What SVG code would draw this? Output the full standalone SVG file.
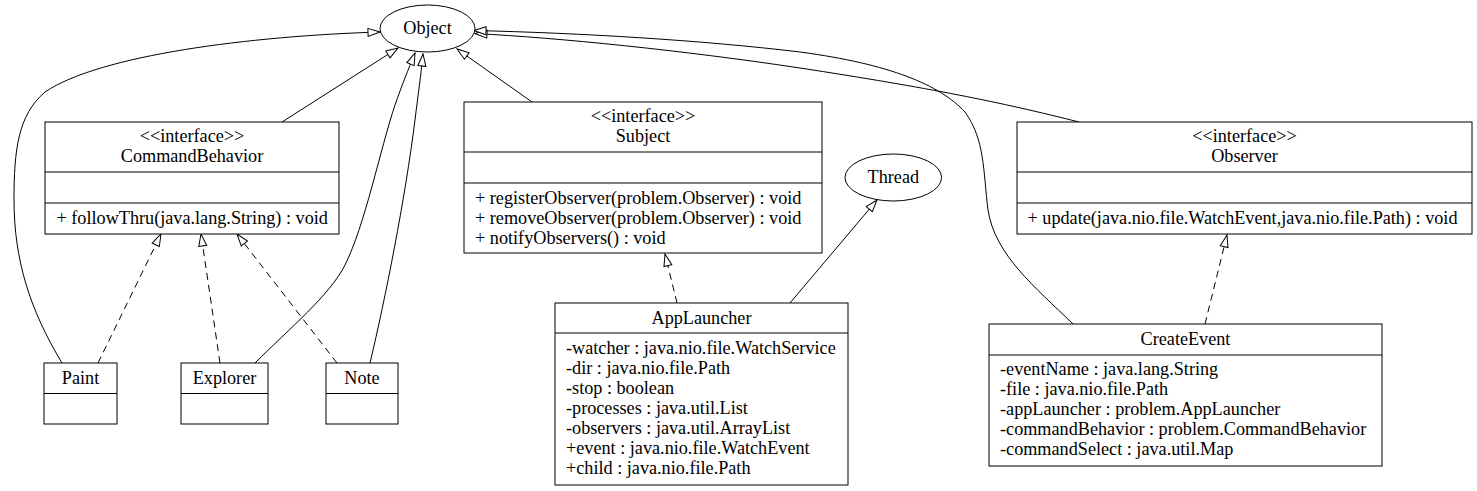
<svg xmlns="http://www.w3.org/2000/svg" width="1477" height="491" viewBox="0 0 1477 491">
<defs>
<style>
text{font-family:"Liberation Serif","Times New Roman",serif;font-size:18.2px;fill:#000}
.c{text-anchor:middle}
.box{fill:#fff;stroke:#000;stroke-width:1}
.div{stroke:#000;stroke-width:1}
.edge{fill:none;stroke:#000;stroke-width:1}
.dash{stroke-dasharray:7,5}
.arr{marker-end:url(#tri)}
</style>
<marker id="tri" viewBox="0 0 14 10" refX="13" refY="5" markerWidth="14" markerHeight="10" markerUnits="userSpaceOnUse" orient="auto">
<path d="M1,1 L13,5 L1,9 Z" fill="#fff" stroke="#000" stroke-width="1"/>
</marker>
</defs>
<rect width="1477" height="491" fill="#fff"/>
<g id="connectors">
<path class="edge arr" d="M62,363 C30,310 14,260 14,200 C14,150 18,115 45,92 C100,55 250,36 380,32"/>
<path class="edge arr" d="M282,122 L398,48"/>
<path class="edge arr" d="M255,363 C290,328 330,295 345,265 C365,225 380,150 395,105 C402,85 408,70 415,53"/>
<path class="edge arr" d="M370,363 C385,300 405,200 415,120 C418,95 421,75 423,54"/>
<path class="edge arr" d="M532,102 L457,49"/>
<path class="edge arr" d="M1079,122 C1000,102 930,88 800,68 C680,50 560,38 475,33.5"/>
<path class="edge arr" d="M1073,324 C1035,287 995,255 988,210 C983,170 985,140 965,112 C940,85 890,64 800,52 C700,40 580,33 474,30.5"/>
<path class="edge dash arr" d="M677,303 L665,254"/>
<path class="edge arr" d="M790,303 L877,200"/>
<path class="edge dash arr" d="M1205,324 L1227,235"/>
<path class="edge dash arr" d="M98,363 L161,234"/>
<path class="edge dash arr" d="M220,363 L201,234"/>
<path class="edge dash arr" d="M337,363 L237,234"/>
</g>
<g id="Object">
<ellipse class="box" cx="427.5" cy="28.5" rx="47.5" ry="23.5"/>
<text class="c" x="427.5" y="34">Object</text>
</g>
<g id="CommandBehavior">
<rect class="box" x="45" y="122" width="294" height="112"/>
<line class="div" x1="45" y1="172" x2="339" y2="172"/>
<line class="div" x1="45" y1="203" x2="339" y2="203"/>
<text class="c" x="192" y="141.5">&lt;&lt;interface&gt;&gt;</text>
<text class="c" x="192" y="161.5">CommandBehavior</text>
<text x="56.5" y="223.5">+ followThru(java.lang.String) : void</text>
</g>
<g id="Subject">
<rect class="box" x="464" y="102" width="358" height="151"/>
<line class="div" x1="464" y1="152" x2="822" y2="152"/>
<line class="div" x1="464" y1="183" x2="822" y2="183"/>
<text class="c" x="643" y="121.5">&lt;&lt;interface&gt;&gt;</text>
<text class="c" x="643" y="141.5">Subject</text>
<text x="475" y="203.5">+ registerObserver(problem.Observer) : void</text>
<text x="475" y="223.5">+ removeObserver(problem.Observer) : void</text>
<text x="475" y="243.5">+ notifyObservers() : void</text>
</g>
<g id="Observer">
<rect class="box" x="1017" y="122" width="455" height="112"/>
<line class="div" x1="1017" y1="172" x2="1472" y2="172"/>
<line class="div" x1="1017" y1="203" x2="1472" y2="203"/>
<text class="c" x="1244.5" y="141.5">&lt;&lt;interface&gt;&gt;</text>
<text class="c" x="1244.5" y="161.5">Observer</text>
<text x="1027.5" y="223.5">+ update(java.nio.file.WatchEvent,java.nio.file.Path) : void</text>
</g>
<g id="Thread">
<ellipse class="box" cx="893.3" cy="177.5" rx="48.3" ry="23.5"/>
<text class="c" x="893.3" y="183">Thread</text>
</g>
<g id="AppLauncher">
<rect class="box" x="555" y="303" width="293" height="182"/>
<line class="div" x1="555" y1="333" x2="848" y2="333"/>
<text class="c" x="701.5" y="324">AppLauncher</text>
<text x="566" y="353.5">-watcher : java.nio.file.WatchService</text>
<text x="566" y="373.5">-dir : java.nio.file.Path</text>
<text x="566" y="393.5">-stop : boolean</text>
<text x="566" y="413.5">-processes : java.util.List</text>
<text x="566" y="433.5">-observers : java.util.ArrayList</text>
<text x="566" y="453.5">+event : java.nio.file.WatchEvent</text>
<text x="566" y="473.5">+child : java.nio.file.Path</text>
</g>
<g id="CreateEvent">
<rect class="box" x="989" y="324" width="393" height="142"/>
<line class="div" x1="989" y1="355" x2="1382" y2="355"/>
<text class="c" x="1185.5" y="344.5">CreateEvent</text>
<text x="1000" y="375">-eventName : java.lang.String</text>
<text x="1000" y="395">-file : java.nio.file.Path</text>
<text x="1000" y="415">-appLauncher : problem.AppLauncher</text>
<text x="1000" y="435">-commandBehavior : problem.CommandBehavior</text>
<text x="1000" y="455">-commandSelect : java.util.Map</text>
</g>
<g id="Paint">
<rect class="box" x="44" y="363" width="73" height="61"/>
<line class="div" x1="44" y1="393.5" x2="117" y2="393.5"/>
<text class="c" x="80.5" y="384">Paint</text>
</g>
<g id="Explorer">
<rect class="box" x="181" y="363" width="87" height="61"/>
<line class="div" x1="181" y1="393.5" x2="268" y2="393.5"/>
<text class="c" x="224.5" y="384">Explorer</text>
</g>
<g id="Note">
<rect class="box" x="326" y="363" width="72" height="61"/>
<line class="div" x1="326" y1="393.5" x2="398" y2="393.5"/>
<text class="c" x="362" y="384">Note</text>
</g>
</svg>
